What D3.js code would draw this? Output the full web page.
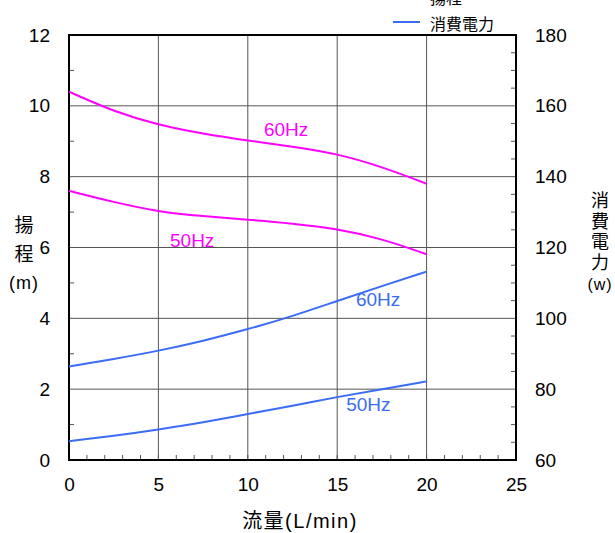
<!DOCTYPE html>
<html>
<head>
<meta charset="utf-8">
<script src="https://cdn.jsdelivr.net/npm/d3@7"></script>
<style>
  body { margin: 0; background: #fff; }
  svg text { font-family: "Liberation Sans", "Noto Sans CJK JP", sans-serif; }
</style>
</head>
<body>
<div id="chart"></div>
<script>
// flow (L/min)
const flow = [0, 2.5, 5, 7.5, 10, 12.5, 15, 17.5, 20];

// head (m)
const head60 = [10.4, 9.84, 9.46, 9.21, 9.02, 8.85, 8.65, 8.28, 7.8];
const head50 = [7.6, 7.28, 7.01, 6.88, 6.79, 6.68, 6.53, 6.25, 5.81];

// power (W)
const power60 = [86.4, 88.5, 90.8, 93.6, 96.9, 100.6, 104.9, 109.1, 113.2];
const power50 = [65.3, 66.8, 68.6, 70.6, 73.0, 75.3, 77.8, 80.0, 82.2];

const xTicks = [0, 5, 10, 15, 20, 25];
const yTicks = [0, 2, 4, 6, 8, 10, 12];
const y2Ticks = [60, 80, 100, 120, 140, 160, 180];

const magenta = "#ff00ff";
const blue = "#3b6cf5";

let m = { t: 35, r: 99, b: 73, l: 69 };
let W = 615, H = 533;
let w = W - m.l - m.r;
let h = H - m.t - m.b;

let svg = d3.select("#chart").append("svg")
    .attr("width", W).attr("height", H);

let g = svg.append("g").attr("transform", "translate(" + m.l + "," + m.t + ")");

let x = d3.scaleLinear().domain([0, 25]).range([0, w]);
let y = d3.scaleLinear().domain([0, 12]).range([h, 0]);
let y2 = d3.scaleLinear().domain([60, 180]).range([h, 0]);

// grid
g.selectAll("line.vg").data(xTicks.slice(1, -1)).enter().append("line")
    .attr("x1", d => x(d)).attr("x2", d => x(d))
    .attr("y1", 0).attr("y2", h)
    .attr("stroke", "#555").attr("stroke-width", 1);
g.selectAll("line.hg").data(yTicks.slice(1, -1)).enter().append("line")
    .attr("x1", 0).attr("x2", w)
    .attr("y1", d => y(d)).attr("y2", d => y(d))
    .attr("stroke", "#555").attr("stroke-width", 1);

// minor ticks
g.selectAll("line.mx").data(d3.range(1, 25)).enter().append("line")
    .attr("x1", d => x(d)).attr("x2", d => x(d))
    .attr("y1", h).attr("y2", h - 5)
    .attr("stroke", "#555");
g.selectAll("line.my").data(d3.range(1, 12, 2)).enter().append("line")
    .attr("x1", 0).attr("x2", 5)
    .attr("y1", d => y(d)).attr("y2", d => y(d))
    .attr("stroke", "#555");
g.selectAll("line.my2").data(d3.range(65, 180, 5).filter(d => d % 20 != 0)).enter().append("line")
    .attr("x1", w).attr("x2", w - 5)
    .attr("y1", d => y2(d)).attr("y2", d => y2(d))
    .attr("stroke", "#555");

// frame
g.append("rect").attr("width", w).attr("height", h)
    .attr("fill", "none").attr("stroke", "#000").attr("stroke-width", 2);

// axes labels
let xa = g.append("g").attr("transform", "translate(0," + h + ")")
    .call(d3.axisBottom(x).tickValues(xTicks).tickSize(0).tickPadding(18));
let ya = g.append("g")
    .call(d3.axisLeft(y).tickValues(yTicks).tickSize(0).tickPadding(19));
let y2a = g.append("g").attr("transform", "translate(" + w + ",0)")
    .call(d3.axisRight(y2).tickValues(y2Ticks).tickSize(0).tickPadding(19));
[xa, ya, y2a].forEach(a => {
    a.select(".domain").remove();
    a.selectAll("text").attr("font-size", 19).attr("fill", "#000")
        .style("font-family", "'Liberation Sans', sans-serif");
});

// curves
let line = d3.line().curve(d3.curveBasis);
function drawCurve(vals, scale, col) {
    g.append("path")
        .attr("d", line(flow.map((f, i) => [x(f), scale(vals[i])])))
        .attr("fill", "none").attr("stroke", col).attr("stroke-width", 2);
}
drawCurve(head60, y, magenta);
drawCurve(head50, y, magenta);
drawCurve(power60, y2, blue);
drawCurve(power50, y2, blue);

// curve labels
function label(txt, fx, fy, scale, col) {
    g.append("text").attr("x", x(fx)).attr("y", scale(fy))
        .attr("font-size", 19).attr("fill", col).text(txt);
}
label("60Hz", 10.9, 9.15, y, magenta);
label("50Hz", 5.65, 6.02, y, magenta);
label("60Hz", 16.05, 103.5, y2, blue);
label("50Hz", 15.5, 73.8, y2, blue);

// axis titles
let lt = svg.append("g").attr("font-size", 19).attr("text-anchor", "middle");
lt.append("text").attr("x", 24).attr("y", 232).text("揚");
lt.append("text").attr("x", 24).attr("y", 261).text("程");
lt.append("text").attr("x", 24).attr("y", 289).attr("font-size", 18)
    .attr("letter-spacing", 1).text("(m)");

let rt = svg.append("g").attr("font-size", 18).attr("text-anchor", "middle");
["消", "費", "電", "力"].forEach((c, i) => {
    rt.append("text").attr("x", 600).attr("y", 207 + i * 20.5).text(c);
});
rt.append("text").attr("x", 600).attr("y", 290).attr("font-size", 16)
    .attr("letter-spacing", 1).text("(w)");

svg.append("text").attr("x", 300).attr("y", 528).attr("text-anchor", "middle")
    .attr("font-size", 20).attr("letter-spacing", 1.5).text("流量(L/min)");

// legend
let lg = svg.append("g");
lg.append("line").attr("x1", 393).attr("x2", 420).attr("y1", -3).attr("y2", -3)
    .attr("stroke", magenta).attr("stroke-width", 2);
lg.append("text").attr("x", 430).attr("y", 4).attr("font-size", 16).text("揚程");
lg.append("line").attr("x1", 393).attr("x2", 420).attr("y1", 22).attr("y2", 22)
    .attr("stroke", blue).attr("stroke-width", 2);
lg.append("text").attr("x", 430).attr("y", 30).attr("font-size", 16).text("消費電力");
</script>
</body>
</html>
